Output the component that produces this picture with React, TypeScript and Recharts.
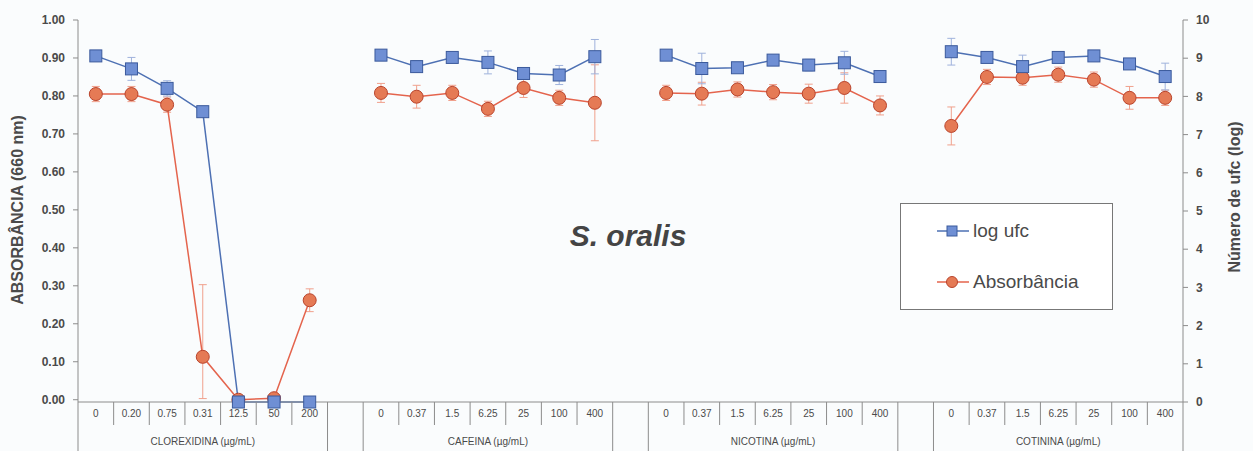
import React from 'react';
import { LineChart, Line, XAxis, YAxis, ErrorBar, Legend, Customized } from 'recharts';

// slots of the category axis; '' marks the empty gap between groups
const categories = [
  '0', '0.20', '0.75', '0.31', '12.5', '50', '200', '',
  '0', '0.37', '1.5', '6.25', '25', '100', '400', '',
  '0', '0.37', '1.5', '6.25', '25', '100', '400', '',
  '0', '0.37', '1.5', '6.25', '25', '100', '400',
];

const groupLabels = ['CLOREXIDINA (µg/mL)', 'CAFEINA (µg/mL)', 'NICOTINA (µg/mL)', 'COTININA (µg/mL)'];

// log ufc, right axis (0-10)
const logUfc = [
  9.06, 8.72, 8.21, 7.6, 0, 0, 0, null,
  9.08, 8.78, 9.02, 8.89, 8.6, 8.56, 9.04, null,
  9.08, 8.73, 8.75, 8.95, 8.82, 8.88, 8.52, null,
  9.17, 9.02, 8.78, 9.02, 9.06, 8.85, 8.52,
];
const logUfcErr = [
  0.1, 0.3, 0.2, 0.1, 0, 0, 0, null,
  0.1, 0.15, 0.1, 0.3, 0.1, 0.25, 0.45, null,
  0.1, 0.4, 0.1, 0.1, 0.15, 0.3, 0.15, null,
  0.35, 0.1, 0.3, 0.1, 0.1, 0.1, 0.35,
];

// absorbance at 660 nm, left axis (0-1)
const absorbance = [
  0.805, 0.805, 0.777, 0.113, 0, 0.004, 0.262, null,
  0.808, 0.798, 0.808, 0.766, 0.821, 0.795, 0.782, null,
  0.808, 0.806, 0.817, 0.81, 0.806, 0.821, 0.775, null,
  0.721, 0.85, 0.848, 0.856, 0.843, 0.795, 0.795,
];
const absorbanceErr: (number | number[] | null)[] = [
  0.02, 0.02, 0.02, [0.11, 0.19], 0, 0.01, 0.03, null,
  0.025, 0.03, 0.02, 0.02, 0.025, 0.02, 0.1, null,
  0.02, 0.03, 0.02, 0.02, 0.025, 0.04, 0.025, null,
  0.05, 0.02, 0.02, 0.02, 0.02, 0.03, 0.02,
];

const leftTicks = [0, 0.1, 0.2, 0.3, 0.4, 0.5, 0.6, 0.7, 0.8, 0.9, 1.0];
const rightTicks = [0, 1, 2, 3, 4, 5, 6, 7, 8, 9, 10];

const data = categories.map((c, i) => ({
  slot: c,
  logUfc: logUfc[i],
  logUfcErr: logUfcErr[i],
  absorbance: absorbance[i],
  absorbanceErr: absorbanceErr[i],
}));

// middle slot of each group -> group label
const groupMiddles: Record<number, string> = {};
{
  let start = 0;
  let g = 0;
  for (let i = 0; i <= categories.length; i++) {
    if (i === categories.length || categories[i] === '') {
      if (i > start) groupMiddles[Math.floor((start + i - 1) / 2)] = groupLabels[g++];
      start = i + 1;
    }
  }
}

const W = 1253;
const H = 451;
const LEFT_W = 78;
const RIGHT_W = 70;
const HALF = (W - LEFT_W - RIGHT_W) / categories.length / 2;

const FONT = '"Liberation Sans", Arial, sans-serif';
const AXIS = '#8c8c8c';
const TEXT = '#4a4a4a';
const BLUE = '#4d70b3';
const RED = '#e4644d';

const CategoryTick = (props: any) => {
  const { x, y, payload } = props;
  const i = payload?.index ?? props.index;
  const label = categories[i];
  const longLeft = i === 0 || label === '' || categories[i - 1] === '';
  return (
    <g>
      <line x1={x - HALF} x2={x - HALF} y1={y} y2={y + (longLeft ? 49 : 23)} stroke={AXIS} />
      {i === categories.length - 1 && (
        <line x1={x + HALF} x2={x + HALF} y1={y} y2={y + 49} stroke={AXIS} />
      )}
      <text x={x} y={y + 15} textAnchor="middle" fontSize={10} fill={TEXT} fontFamily={FONT}>
        {label}
      </text>
      {groupMiddles[i] && (
        <text x={x} y={y + 43} textAnchor="middle" fontSize={10} fill={TEXT} fontFamily={FONT}>
          {groupMiddles[i]}
        </text>
      )}
    </g>
  );
};

const SquareDot = (p: any) => {
  const { cx, cy, index } = p;
  if (cx == null || cy == null || p.value == null) return <g key={`sq${index}`} />;
  return (
    <rect key={`sq${index}`} x={cx - 6} y={cy - 6} width={12} height={12}
      fill="#6f8fd4" stroke="#3b5a9c" strokeWidth={1} />
  );
};

const CircleDot = (p: any) => {
  const { cx, cy, index } = p;
  if (cx == null || cy == null || p.value == null) return <g key={`ci${index}`} />;
  return <circle key={`ci${index}`} cx={cx} cy={cy} r={6.5} fill="#e57a55" stroke="#b9442c" strokeWidth={1} />;
};

const LegendBox = () => (
  <div style={{
    width: 211, height: 105, border: '1px solid #777', background: '#fff',
    fontFamily: FONT, fontSize: 19, color: TEXT, position: 'relative',
  }}>
    <div style={{ position: 'absolute', left: 34, top: 16, display: 'flex', alignItems: 'center' }}>
      <svg width={36} height={20}>
        <line x1={2} x2={34} y1={10} y2={10} stroke={BLUE} strokeWidth={1.5} />
        <rect x={12} y={5} width={10} height={10} fill="#6f8fd4" stroke="#3b5a9c" />
      </svg>
      <span style={{ marginLeft: 2 }}>log ufc</span>
    </div>
    <div style={{ position: 'absolute', left: 34, top: 67, display: 'flex', alignItems: 'center' }}>
      <svg width={36} height={20}>
        <line x1={2} x2={34} y1={10} y2={10} stroke={RED} strokeWidth={1.5} />
        <circle cx={17} cy={10} r={5.5} fill="#e57a55" stroke="#b9442c" />
      </svg>
      <span style={{ marginLeft: 2 }}>Absorbância</span>
    </div>
  </div>
);

const Titles = () => (
  <g fontFamily={FONT}>
    <text x={628} y={246} textAnchor="middle" fontSize={30} fontWeight="bold" fontStyle="italic" fill="#444">
      S. oralis
    </text>
    <text x={23} y={210} transform="rotate(-90 23 210)" textAnchor="middle" fontSize={16} fontWeight="bold" fill={TEXT}>
      ABSORBÂNCIA (660 nm)
    </text>
    <text x={1240} y={197} transform="rotate(-90 1240 197)" textAnchor="middle" fontSize={16} fontWeight="bold" fill={TEXT}>
      Número de ufc (log)
    </text>
  </g>
);

export default function App() {
  return (
    <div style={{ position: 'absolute', left: 0, top: 0, width: W, height: H, background: '#fafcfd' }}>
      <LineChart
        width={W}
        height={H}
        data={data}
        margin={{ top: 20, right: 0, bottom: 0, left: 0 }}
        style={{ fontFamily: FONT }}
      >
        <XAxis
          dataKey="slot"
          interval={0}
          height={49}
          padding={{ left: HALF, right: HALF }}
          tickLine={false}
          tickSize={0}
          tickMargin={0}
          stroke={AXIS}
          tick={(p: any) => <CategoryTick {...p} />}
        />
        <YAxis
          yAxisId="left"
          domain={[0, 1]}
          ticks={leftTicks}
          width={LEFT_W}
          tickSize={5}
          tickMargin={8}
          stroke={AXIS}
          tick={{ fill: TEXT, fontSize: 12, fontWeight: 'bold' }}
          tickFormatter={(v: number) => v.toFixed(2)}
        />
        <YAxis
          yAxisId="right"
          orientation="right"
          domain={[0, 10]}
          ticks={rightTicks}
          width={RIGHT_W}
          tickSize={5}
          tickMargin={8}
          stroke={AXIS}
          tick={{ fill: TEXT, fontSize: 12, fontWeight: 'bold' }}
        />
        <Legend
          layout="vertical"
          align="center"
          verticalAlign="middle"
          content={() => <LegendBox />}
          wrapperStyle={{ left: 900, top: 203, width: 213, height: 107 }}
        />
        <Line
          yAxisId="left"
          dataKey="absorbance"
          name="Absorbância"
          stroke={RED}
          strokeWidth={1.5}
          dot={CircleDot}
          activeDot={false}
          isAnimationActive={false}
        >
          <ErrorBar dataKey="absorbanceErr" width={4} stroke="#f0a08c" strokeWidth={1} direction="y" />
        </Line>
        <Line
          yAxisId="right"
          dataKey="logUfc"
          name="log ufc"
          stroke={BLUE}
          strokeWidth={1.5}
          dot={SquareDot}
          activeDot={false}
          isAnimationActive={false}
        >
          <ErrorBar dataKey="logUfcErr" width={4} stroke="#9fb2dc" strokeWidth={1} direction="y" />
        </Line>
        <Customized component={Titles} />
      </LineChart>
    </div>
  );
}
